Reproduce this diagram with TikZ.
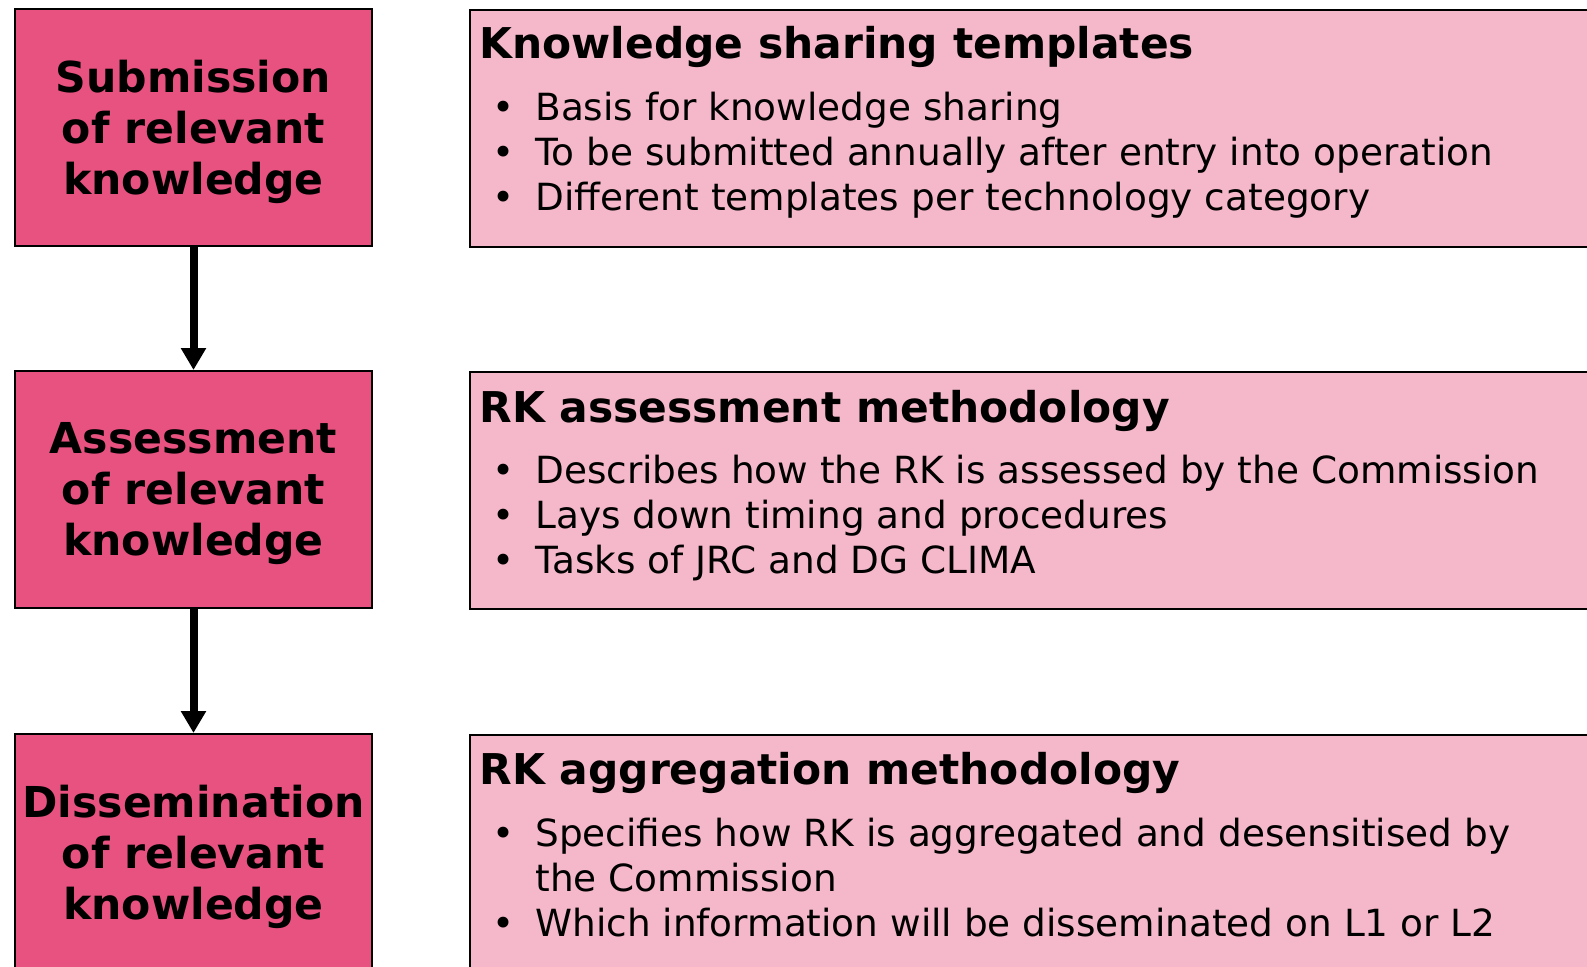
\documentclass[tikz,border=0pt]{standalone}
\usepackage{fontspec}
\setmainfont{DejaVu Sans}
\usetikzlibrary{arrows.meta,positioning}

\definecolor{rkdark}{RGB}{231,82,128}
\definecolor{rklight}{RGB}{244,184,202}

\newcommand{\rkbul}{\makebox[28pt][l]{\hspace{6.5pt}\textbullet}}
\newcommand{\rkcont}{\hspace{28pt}}

\tikzset{
	stage/.style={draw=black, line width=1pt, fill=rkdark, minimum width=178.5pt, minimum height=118.5pt, inner sep=0pt, align=center, text depth=0.5pt, font=\fontsize{21.3}{25.5}\selectfont\bfseries},
	infobox/.style={draw=black, line width=1pt, fill=rklight, minimum width=600pt, minimum height=118.5pt, inner sep=0pt, anchor=north west},
	infotitle/.style={anchor=base west, inner sep=0pt, font=\fontsize{21.2}{25.5}\selectfont\bfseries},
	infolist/.style={anchor=north west, inner sep=0pt, align=left, font=\fontsize{18.7}{22.5}\selectfont},
	flow/.style={line width=4pt, -{Triangle[length=11pt,width=12pt]}}
}

\begin{document}
\begin{tikzpicture}[x=0.5pt,y=-0.5pt]

				\useasboundingbox (0,0) rectangle (1587,966);
				\clip (0,0) rectangle (1587,966);

				% process steps
				\node[stage] (sub) at (193.5,127.5) {Submission\\of relevant\\knowledge};
				\node[stage] (ass) at (193.5,489.5) {Assessment\\of relevant\\knowledge};
				\node[stage] (dis) at (193.5,852.5) {Dissemination\\of relevant\\knowledge};

				\draw[flow] (sub) -- (ass);
				\draw[flow] (ass) -- (dis);

				% descriptions
				\node[infobox] (tpl) at (469,9) {};
				\node[infobox] (ass-m) at (469,371) {};
				\node[infobox] (agg-m) at (469,734) {};

				\node[infotitle] (tpl-t) at (479,58) {Knowledge sharing templates};
				\node[infolist] (tpl-l) at (479,92) {\rkbul Basis for knowledge sharing\\
					\rkbul To be submitted annually after entry into operation\\
					\rkbul Different templates per technology category};

				\node[infotitle] (ass-t) at (479,422) {RK assessment methodology};
				\node[infolist] (ass-l) at (479,455) {\rkbul Describes how the RK is assessed by the Commission\\
					\rkbul Lays down timing and procedures\\
					\rkbul Tasks of JRC and DG CLIMA};

				\node[infotitle] (agg-t) at (479,784) {RK aggregation methodology};
				\node[infolist] (agg-l) at (479,818) {\rkbul Specifies how RK is aggregated and desensitised by\\
					\rkcont the Commission\\
					\rkbul Which information will be disseminated on L1 or L2};

\end{tikzpicture}
\end{document}
